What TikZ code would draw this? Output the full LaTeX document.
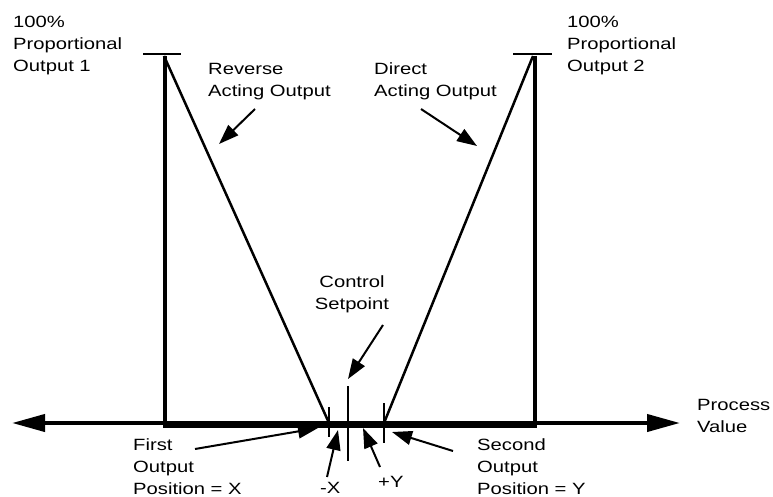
\documentclass[tikz,border=0pt]{standalone}
\usepackage{fontspec}
\setmainfont{Liberation Sans}
\usepackage{graphicx}
\usetikzlibrary{arrows.meta}
\newcommand{\wtxt}[2][l]{\scalebox{1.24}[1]{\begin{tabular}[t]{@{}#1@{}}#2\end{tabular}}}
\tikzset{
  lbl/.style={inner sep=0pt, font=\fontsize{16.3}{22}\selectfont, anchor=base west},
  axisline/.style={line width=4pt, {Triangle[length=33pt,width=17pt]}-{Triangle[length=33pt,width=17pt]}},
  thickbar/.style={line width=7pt},
  vert/.style={line width=4pt},
  capline/.style={line width=2pt},
  diag/.style={line width=2.5pt},
  tick/.style={line width=1.5pt},
  pointer/.style={line width=2pt, -{Triangle[length=20pt,width=14pt]}}
}
\begin{document}
\begin{tikzpicture}[x=1pt,y=-1pt]
\useasboundingbox (0,0) rectangle (773,497);
% coordinates
\coordinate (axL) at (12,423);
\coordinate (axR) at (680,423);
\coordinate (barL) at (163,424.5);
\coordinate (barR) at (537,424.5);
\coordinate (v1t) at (165,56);
\coordinate (v1b) at (165,424);
\coordinate (v2t) at (535,56);
\coordinate (v2b) at (535,424);
\coordinate (c1l) at (143,54);
\coordinate (c1r) at (181,54);
\coordinate (c2l) at (513,54);
\coordinate (c2r) at (552,54);
\coordinate (revT) at (164,56);
\coordinate (revB) at (329,423);
\coordinate (dirT) at (533,56);
\coordinate (dirB) at (384,423);
\coordinate (tXa) at (329,407);
\coordinate (tXb) at (329,437);
\coordinate (tSa) at (348,386);
\coordinate (tSb) at (348,461);
\coordinate (tYa) at (384,403);
\coordinate (tYb) at (384,443);
% pointer ends
\coordinate (pRevS) at (255,109);
\coordinate (pRevE) at (219,144);
\coordinate (pDirS) at (421,109);
\coordinate (pDirE) at (477,146);
\coordinate (pSpS) at (383,325);
\coordinate (pSpE) at (348,379);
\coordinate (pFS) at (195,449);
\coordinate (pFE) at (318,428);
\coordinate (pXS) at (327,477);
\coordinate (pXE) at (338,430);
\coordinate (pYS) at (380,467);
\coordinate (pYE) at (363,428);
\coordinate (pSS) at (453,451);
\coordinate (pSE) at (392,432);
% lines
\draw[axisline] (axL) -- (axR);
\draw[thickbar] (barL) -- (barR);
\draw[vert] (v1t) -- (v1b);
\draw[vert] (v2t) -- (v2b);
\draw[capline] (c1l) -- (c1r);
\draw[capline] (c2l) -- (c2r);
\draw[diag] (revT) -- (revB);
\draw[diag] (dirT) -- (dirB);
\draw[tick] (tXa) -- (tXb);
\draw[tick] (tSa) -- (tSb);
\draw[tick] (tYa) -- (tYb);
\draw[pointer] (pRevS) -- (pRevE);
\draw[pointer] (pDirS) -- (pDirE);
\draw[pointer] (pSpS) -- (pSpE);
\draw[pointer] (pFS) -- (pFE);
\draw[pointer] (pXS) -- (pXE);
\draw[pointer] (pYS) -- (pYE);
\draw[pointer] (pSS) -- (pSE);
% labels
\node[lbl] (out1) at (13,28) {\wtxt{100\%\\Proportional\\Output 1}};
\node[lbl] (out2) at (567,28) {\wtxt{100\%\\Proportional\\Output 2}};
\node[lbl] (rev) at (208,75) {\wtxt{Reverse\\Acting Output}};
\node[lbl] (dir) at (374,75) {\wtxt{Direct\\Acting Output}};
\node[lbl, anchor=base] (sp) at (352,287) {\wtxt[c]{Control\\Setpoint}};
\node[lbl] (first) at (133,450) {\wtxt{First\\Output\\Position = X}};
\node[lbl] (second) at (477,450) {\wtxt{Second\\Output\\Position = Y}};
\node[lbl] (mx) at (320,493) {\wtxt{-X}};
\node[lbl] (py) at (378,487) {\wtxt{+Y}};
\node[lbl] (pv) at (697,410) {\wtxt{Process\\Value}};
\end{tikzpicture}
\end{document}
